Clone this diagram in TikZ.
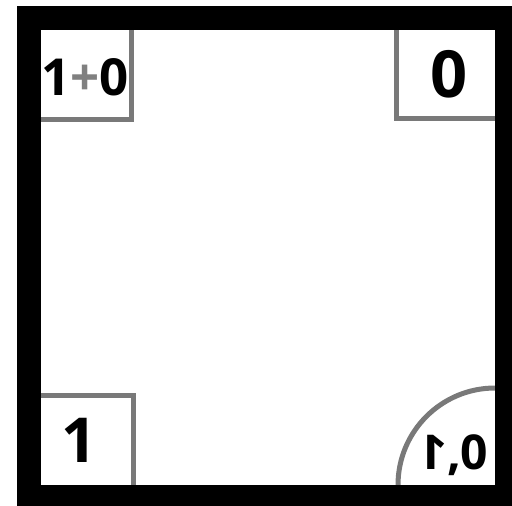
\documentclass[tikz,border=0pt]{standalone}
\usepackage{fontspec}
\setmainfont{Open Sans}
\usepackage{graphicx}
\usepackage{tikz}

\begin{document}
\begin{tikzpicture}[
  x=1pt, y=-1pt,
  digit/.style={font=\bfseries\fontsize{#1}{#1}\selectfont, inner sep=0pt, text depth=0pt},
  corner/.style={draw=gray!95!black, line width=5pt},
  frame/.style={draw=black, line width=24pt},
]
\useasboundingbox (0,0) rectangle (512,506);
% labels in the corners
\node[digit=51] (tl) at (85,77) {1\textcolor{gray}{+}0};
\node[digit=65] (tr) at (449,74) {0};
\node[digit=62] (bl) at (79,440) {1};
\node[digit=48] (br) at (454,452) {\reflectbox{1},0};
% corner marks
\draw[corner] (38,119) -| (131,27);
\draw[corner] (396,27) |- (498,118);
\draw[corner] (38,395) -| (133,488);
\draw[corner] (495,388) arc[start angle=-90, end angle=-180, radius=97];
% outer frame
\draw[frame] (29,18) rectangle (507,497);
\end{tikzpicture}
\end{document}
